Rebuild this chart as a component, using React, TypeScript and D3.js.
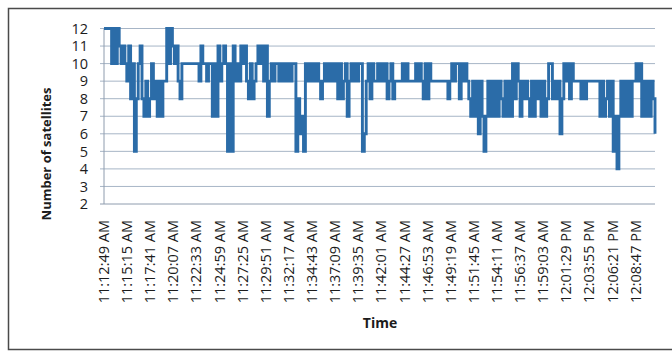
import React from "react";
import * as d3 from "d3";

// one reading every 12 s, starting at 11:12:49 AM
const sampleSeconds = 12;
const labelStepSeconds = 146;

const timeLabels = [
  "11:12:49 AM", "11:15:15 AM", "11:17:41 AM", "11:20:07 AM", "11:22:33 AM",
  "11:24:59 AM", "11:27:25 AM", "11:29:51 AM", "11:32:17 AM", "11:34:43 AM",
  "11:37:09 AM", "11:39:35 AM", "11:42:01 AM", "11:44:27 AM", "11:46:53 AM",
  "11:49:19 AM", "11:51:45 AM", "11:54:11 AM", "11:56:37 AM", "11:59:03 AM",
  "12:01:29 PM", "12:03:55 PM", "12:06:21 PM", "12:08:47 PM",
];

const yTicks = [2, 3, 4, 5, 6, 7, 8, 9, 10, 11, 12];

const satellites = [
  12, 12, 12, 12, 10, 12, 10, 12, 11, 10, 11, 10, 9, 11, 8, 10, 5, 8,
  10, 11, 8, 7, 9, 7, 8, 10, 8, 9, 7, 9, 7, 9, 9, 12, 10, 12, 11, 10, 11, 9,
  8, 10, 10, 10, 10, 10, 10, 10, 10, 10, 9, 11, 10, 10, 9, 10, 10, 7, 10, 7,
  11, 9, 10, 11, 10, 5, 10, 5, 11, 9, 10, 9, 11, 10, 11, 9, 8, 10, 8, 9, 10,
  11, 10, 11, 9, 11, 7, 9, 10, 9, 10, 10, 9, 10, 9, 10, 9, 10, 9, 10, 10,
  5, 8, 6, 7, 5, 10, 9, 10, 9, 10, 9, 10, 9, 8, 9, 10, 9, 10, 9, 10, 9, 10,
  8, 10, 8, 9, 10, 7, 9, 10, 9, 10, 9, 10, 10, 5, 6, 9, 10, 8, 10, 9, 9, 10,
  9, 10, 9, 10, 8, 9, 10, 8, 9, 9, 9, 9, 10, 9, 10, 9, 9, 9, 9, 10, 9, 10,
  9, 8, 10, 8, 10, 9, 9, 9, 9, 9, 9, 9, 9, 9, 8, 9, 10, 9, 10, 10, 8, 10, 9,
  10, 9, 8, 7, 9, 7, 9, 6, 9, 7, 5, 7, 9, 7, 9, 7, 9, 7, 9, 8, 7, 9, 7, 9,
  7, 10, 8, 10, 9, 7, 9, 8, 9, 8, 7, 9, 7, 9, 8, 9, 7, 9, 7, 8, 10, 10, 8,
  9, 8, 9, 6, 8, 10, 9, 10, 8, 10, 9, 9, 9, 9, 8, 9, 8, 9, 9, 9, 9, 9, 9, 9,
  7, 9, 7, 8, 9, 7, 9, 5, 7, 4, 7, 9, 7, 9, 7, 9, 7, 9, 9, 10, 9, 10, 7, 9,
  7, 9, 7, 9, 8, 6,
];

const width = 672;
const height = 352;
const plotLeft = 104;
const plotRight = 655;
const plotTop = 28.5;
const plotBottom = 204;

const lineColor = "#2b6ca8";
const gridColor = "#a7b5c6";
const font = "'Open Sans', 'Noto Sans', sans-serif";

export default function App() {
  const x = d3
    .scaleLinear()
    .domain([0, (satellites.length - 1) * sampleSeconds])
    .range([plotLeft, plotRight]);

  const y = d3.scaleLinear().domain([2, 12]).range([plotBottom, plotTop]);

  const line = d3
    .line<number>()
    .x((_, i) => x(i * sampleSeconds))
    .y((d) => y(d))
    .curve(d3.curveStepAfter);

  return (
    <svg
      width={width}
      height={height}
      style={{ position: "absolute", top: 0, left: 0, background: "#fff" }}
      fontFamily={font}
    >
      <rect x={8.5} y={8.5} width={700} height={341} fill="#fff" stroke="#4a4a4a" strokeWidth={1.5} />

      <g>
        {yTicks.map((t) => (
          <line
            key={t}
            x1={plotLeft - 4}
            x2={plotRight}
            y1={y(t)}
            y2={y(t)}
            stroke={t === 2 ? "#8e9cae" : gridColor}
            strokeWidth={1}
          />
        ))}
        <line x1={plotLeft} x2={plotLeft} y1={plotTop} y2={plotBottom} stroke="#8e9cae" strokeWidth={1} />
      </g>

      <g fontSize={14.5} fill="#1c1c1c" textAnchor="end">
        {yTicks.map((t) => (
          <text key={t} x={88} y={y(t)} dy="0.36em">
            {t}
          </text>
        ))}
      </g>

      <g fontSize={14.5} fill="#1c1c1c" textAnchor="end">
        {timeLabels.map((label, i) => (
          <text
            key={label}
            transform={`translate(${x(i * labelStepSeconds) + 5},220) rotate(-90)`}
          >
            {label}
          </text>
        ))}
      </g>

      <path
        d={line(satellites) || ""}
        fill="none"
        stroke={lineColor}
        strokeWidth={2.9}
        strokeLinejoin="miter"
      />

      <text
        transform={`translate(51,154) rotate(-90)`}
        textAnchor="middle"
        fontSize={13}
        fontWeight="bold"
        fill="#1c1c1c"
      >
        Number of satellites
      </text>
      <text x={380} y={328} textAnchor="middle" fontSize={14} fontWeight="bold" fill="#1c1c1c">
        Time
      </text>
    </svg>
  );
}
